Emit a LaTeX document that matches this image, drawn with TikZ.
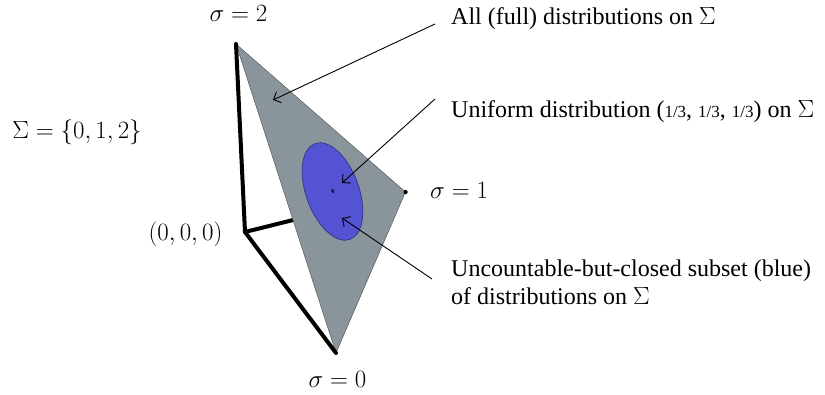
\documentclass[tikz,border=0pt]{standalone}
\usepackage{fontspec}
\setmainfont{Liberation Serif}
\usetikzlibrary{arrows.meta}
\definecolor{simplexgray}{HTML}{89949B}
\definecolor{setblue}{HTML}{5353D3}
\definecolor{setedge}{HTML}{2E2E80}
\tikzset{
  lbl/.style={inner sep=0pt, font=\fontsize{24}{28}\selectfont},
  thickedge/.style={line width=4pt, line join=round, line cap=round},
  pointer/.style={line width=0.9pt, -{Straight Barb[length=6pt,width=12pt]}},
}
\begin{document}
\begin{tikzpicture}[x=1pt,y=1pt]
\useasboundingbox (0,0) rectangle (825,395);
% vertices
\coordinate (S2) at (236,351);
\coordinate (S1) at (405.5,203);
\coordinate (S0) at (336,42);
\coordinate (O) at (245,163);
\coordinate (C) at (332.5,203.5);
% hidden edge
\draw[thickedge] (O) -- (S1);
% simplex
\fill[simplexgray] (S2) -- (S1) -- (S0) -- cycle;
\draw[line width=0.4pt, black!70] (S2) -- (S1) -- (S0) -- cycle;
% blue set
\draw[fill=setblue, draw=setedge, line width=0.6pt, rotate around={-70:(C)}] (C) ellipse [x radius=51pt, y radius=26.5pt];
\fill[setedge!60!black, rotate around={-70:(332.7,204)}] (332.7,204) ellipse [x radius=2.2pt, y radius=1.4pt];
% thick edges
\draw[thickedge] (S2) -- (O) -- (S0);
\fill (S1) circle (2pt);
% labels
\node[lbl, anchor=base] (l2) at (238.5,373) {$\sigma = 2$};
\node[lbl, anchor=base] (lS) at (77,256) {$\Sigma = \{0, 1, 2\}$};
\node[lbl, anchor=base] (lO) at (185.5,154) {$(0, 0, 0)$};
\node[lbl, anchor=base west] (l1) at (430,196) {$\sigma = 1$};
\node[lbl, anchor=base] (l0) at (337.5,7) {$\sigma = 0$};
\node[lbl, anchor=base west] (tA) at (451,370) {All (full) distributions on $\Sigma$};
\node[lbl, anchor=base west] (tU) at (451,277) {Uniform distribution ({\fontsize{17}{17}\selectfont 1/3}, {\fontsize{17}{17}\selectfont 1/3}, {\fontsize{17}{17}\selectfont 1/3}) on $\Sigma$};
\node[lbl, anchor=base west] (tB) at (451,118) {Uncountable-but-closed subset (blue)};
\node[lbl, anchor=base west] (tB2) at (451,90) {of distributions on $\Sigma$};
% arrows
\coordinate (a1s) at (435,371);
\coordinate (a1e) at (273,295);
\coordinate (a2s) at (435,296);
\coordinate (a2e) at (342,212);
\coordinate (a3s) at (432,116);
\coordinate (a3e) at (342,177);
\draw[pointer] (a1s) -- (a1e);
\draw[pointer] (a2s) -- (a2e);
\draw[pointer] (a3s) -- (a3e);
\end{tikzpicture}
\end{document}
